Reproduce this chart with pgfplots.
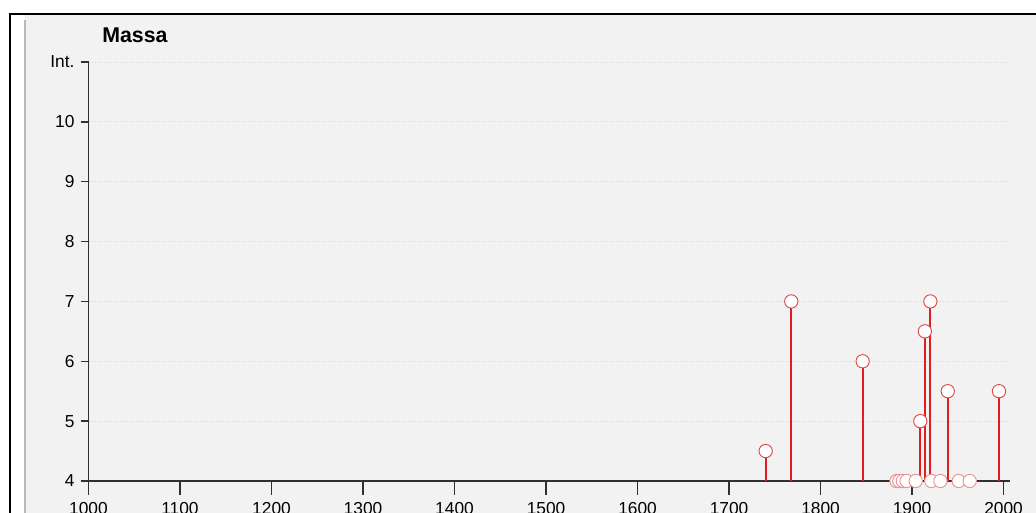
\documentclass[border=0pt]{standalone}
\usepackage{fontspec}
\setmainfont{Liberation Sans}
\usepackage{pgfplots}
\pgfplotsset{compat=1.18}
\definecolor{bg}{HTML}{F2F2F2}
\definecolor{stemc}{HTML}{E01E1E}
\definecolor{mkc}{HTML}{E04848}
\definecolor{mkl}{HTML}{E89494}
\definecolor{axc}{HTML}{303030}
\begin{document}
\begin{tikzpicture}[x=0.75pt,y=0.75pt]
\useasboundingbox (0,0) rectangle (1036,513);
\fill[bg] (25,0) rectangle (1036,499);
\fill[white] (10,0) rectangle (25,499);
\draw[gray!55, line width=0.9pt] (25,0) -- (25,493);
\draw[black, line width=1.6pt] (10,0) -- (10,499) -- (1036,499);
\node[anchor=west, inner sep=0pt, font=\bfseries\fontsize{16}{18}\selectfont] at (102,478) {Massa};
\begin{axis}[
  at={(66.375pt,24pt)}, anchor=south west, scale only axis,
  width=691.1pt, height=314.25pt,
  xmin=1000, xmax=2007, ymin=4, ymax=11,
  axis lines*=left,
  axis line style={axc, line width=1.1pt},
  xtick=\empty,
  minor xtick={1050,1150,...,1950},
  extra x ticks={1000,1100,...,2000},
  extra x tick style={major tick length=10.5pt, xticklabel style={yshift=-2pt}},
  ytick={4,5,...,11},
  yticklabels={4,5,6,7,8,9,10,Int.},
  tick align=outside,
  major tick length=6pt,
  minor tick length=4.5pt,
  every tick/.style={axc, line width=1.1pt},
  ymajorgrids,
  grid style={dotted, gray!35, line width=0.7pt},
  tick label style={font=\fontsize{13}{15}\selectfont},
  /pgf/number format/assume math mode=true,
  /pgf/number format/1000 sep={},
  yticklabel style={xshift=-1pt},
  clip mode=individual,
]
\addplot[stemc, line width=1.3pt, ycomb, mark=*, mark size=5pt,
  mark options={fill=white, draw=mkc, line width=0.7pt}] coordinates {
  (1740,4.5) (1768,7) (1846,6) (1909,5) (1914,6.5) (1920,7) (1939,5.5) (1995,5.5)
};
\addplot[only marks, mark=*, mark size=5pt,
  mark options={fill=white, draw=mkl, line width=0.7pt}] coordinates {
  (1883,4) (1886,4) (1890,4) (1894,4) (1904,4) (1921,4) (1931,4) (1951,4) (1963,4)
};
\end{axis}
\end{tikzpicture}
\end{document}
